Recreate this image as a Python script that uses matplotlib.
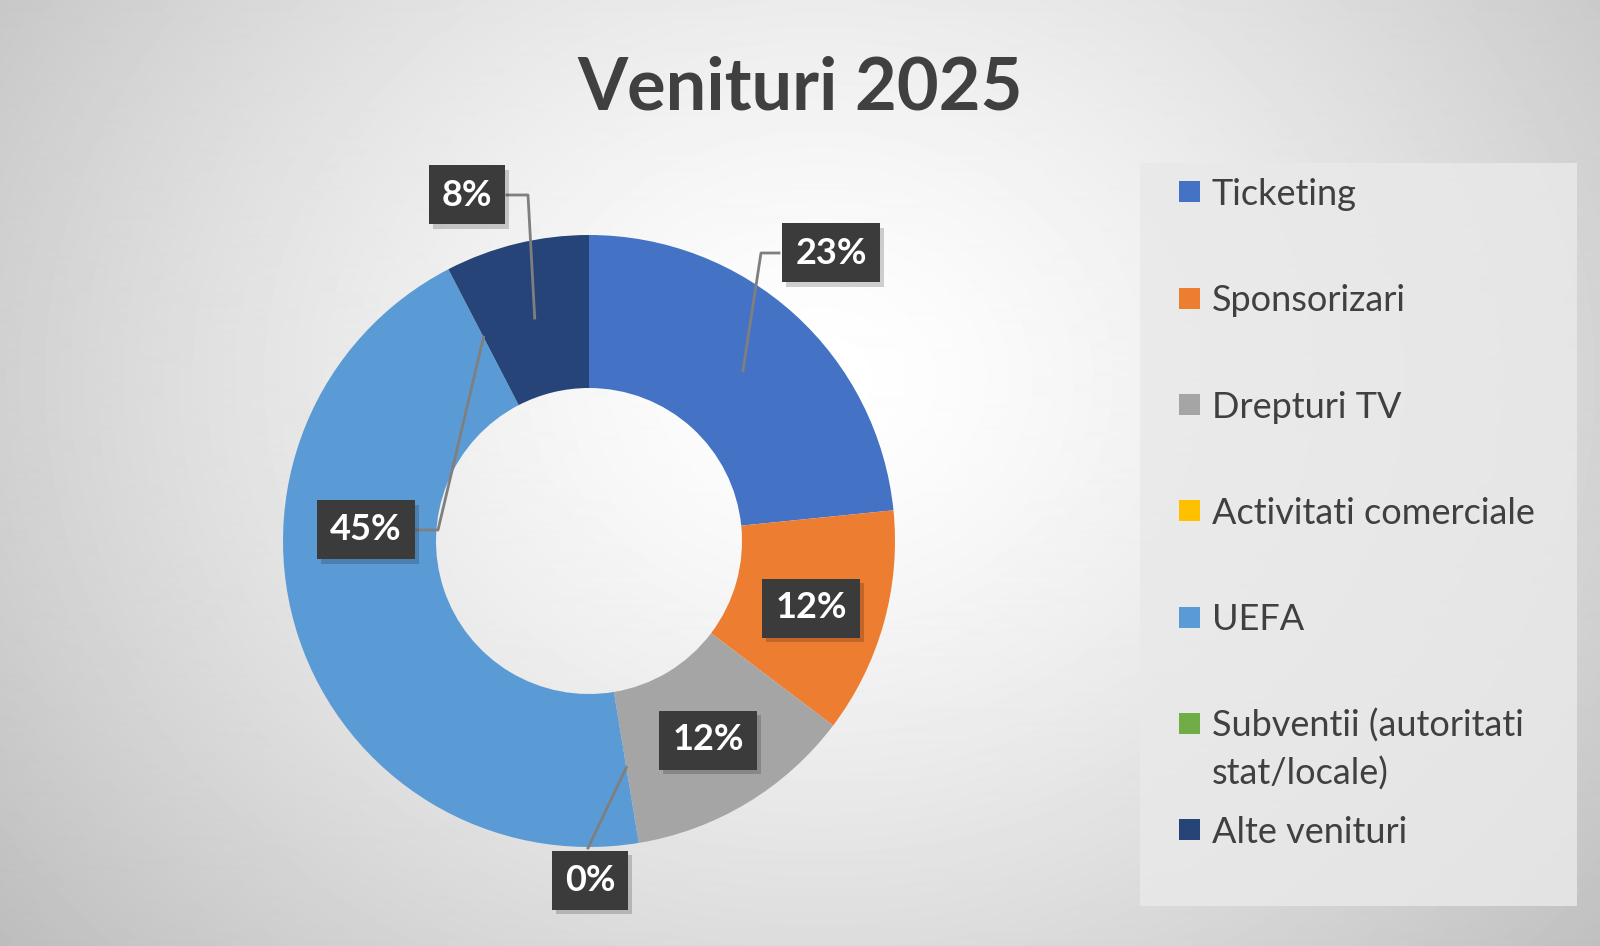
import numpy as np
import matplotlib.pyplot as plt
import matplotlib.patheffects as pe
from matplotlib.patches import Rectangle

plt.rcParams['font.family'] = ['Lato', 'DejaVu Sans']

# datele graficului (procente din venituri)
categories = ['Ticketing', 'Sponsorizari', 'Drepturi TV', 'Activitati comerciale',
              'UEFA', 'Subventii (autoritati\nstat/locale)', 'Alte venituri']
shares = [23.4, 11.9, 12.1, 0.0, 45.0, 0.0, 7.6]
colors = ['#4472C4', '#ED7D31', '#A5A5A5', '#FFC000', '#5B9BD5', '#70AD47', '#264478']
title = 'Venituri 2025'

W, H = 1600, 946
fig = plt.figure(figsize=(W / 100, H / 100), dpi=100)
ax = fig.add_axes([0, 0, 1, 1])

# fundal cu gradient radial
yy, xx = np.mgrid[0:H, 0:W]
d = np.sqrt(((xx - 820) / 1000.0) ** 2 + ((yy - 380) / 850.0) ** 2)
bg = 1.0 - 0.24 * np.clip(d, 0, 1.4) ** 1.4
ax.imshow(bg, extent=(0, W, 0, H), origin='upper', cmap='gray', vmin=0, vmax=1,
          zorder=0, interpolation='bilinear')

# inelul
cx, cy, R = 589, H - 541, 306
wedges, _ = ax.pie(shares, colors=colors, startangle=90, counterclock=False,
                   radius=R, center=(cx, cy),
                   wedgeprops=dict(width=R * 0.5, edgecolor='none'))
ax.set_xlim(0, W)
ax.set_ylim(0, H)
ax.set_aspect('auto')
ax.axis('off')


def anchor(i):
    w = wedges[i]
    a = np.deg2rad((w.theta1 + w.theta2) / 2)
    r = R * 0.75
    return cx + r * np.cos(a), cy + r * np.sin(a)


# pozitiile etichetelor (pixeli imagine)
label_pos = {0: (831, 253), 1: (811, 608), 2: (708, 740), 3: (590, 880),
             4: (366, 530), 6: (467, 195)}

# linii de legatura
lc = '#7f7f7f'
p = anchor(0)
ax.plot([779, 761, p[0]], [H - 253, H - 253, p[1]], color=lc, lw=2, zorder=3)
p = anchor(6)
ax.plot([507, 528, p[0]], [H - 195, H - 195, p[1]], color=lc, lw=2, zorder=3)
p = anchor(5)
ax.plot([416, 438, p[0]], [H - 530, H - 530, p[1]], color=lc, lw=2, zorder=3)
p = anchor(3)
ax.plot([588, p[0]], [H - 848, p[1]], color=lc, lw=2, zorder=3)

for i, (px, py) in label_pos.items():
    t = ax.text(px, H - py, f'{shares[i]:.0f}%', ha='center', va='center',
                fontsize=26, fontweight='bold', color='white', zorder=5,
                bbox=dict(boxstyle='square,pad=0.36', facecolor='#3b3b3b',
                          edgecolor='none'))
    t.get_bbox_patch().set_path_effects([
        pe.SimplePatchShadow(offset=(3, -3), shadow_rgbFace='#000000', alpha=0.18),
        pe.Normal()])

# titlu
fig.text(800 / W, 1 - 109 / H, title, ha='center', va='baseline', fontsize=52,
         fontweight='bold', color='#404040')

# legenda
ax.add_patch(Rectangle((1140, H - 906), 437, 743, facecolor='#e9e9e9',
                       edgecolor='none', alpha=0.85, zorder=1))
for i, lab in enumerate(categories):
    yc = 192 + 106.3 * i
    ax.add_patch(Rectangle((1179, H - yc - 10.5), 21, 21, facecolor=colors[i],
                           edgecolor='none', zorder=2))
    for j, line in enumerate(lab.split('\n')):
        ax.text(1212, H - yc - 13 - 48 * j, line, ha='left', va='baseline',
                fontsize=26, color='#404040', zorder=2)

fig.savefig('out.png', dpi=100)
